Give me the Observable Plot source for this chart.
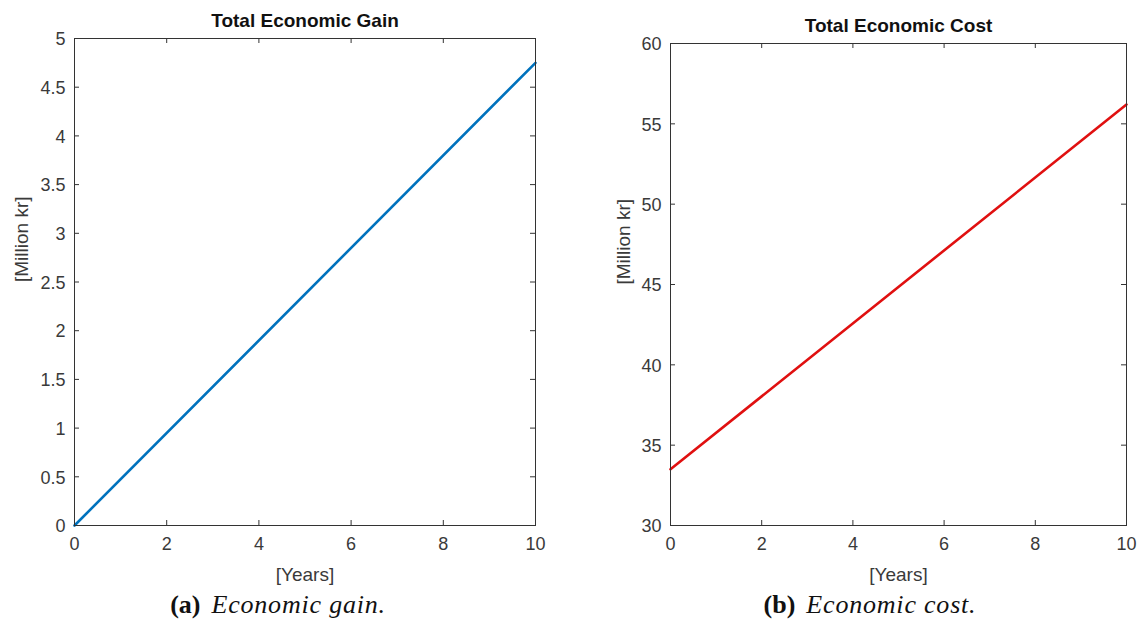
<!DOCTYPE html>
<html>
<head>
<meta charset="utf-8">
<script src="https://cdn.jsdelivr.net/npm/d3@7"></script>
<script src="https://cdn.jsdelivr.net/npm/@observablehq/plot@0.6"></script>
<style>
  body { margin: 0; background: #fff; }
  #wrap { position: relative; width: 1144px; height: 640px; overflow: hidden; background: #fff; }
  .panel { position: absolute; top: 0; }
  .cap {
    position: absolute; top: 590px; transform: translateX(-50%); white-space: nowrap;
    font-family: "Liberation Serif", "DejaVu Serif", serif; font-size: 26px; color: #111;
  }
  .cap b { font-weight: bold; margin-right: 11px; }
  .cap i { font-style: italic; letter-spacing: 0.8px; }
</style>
</head>
<body>
<div id="wrap">
  <div class="panel" id="left" style="left:0px"></div>
  <div class="panel" id="right" style="left:580px"></div>
  <div class="cap" style="left:278px"><b>(a)</b><i>Economic gain.</i></div>
  <div class="cap" style="left:870px"><b>(b)</b><i>Economic cost.</i></div>
</div>
<script>
// Simulation horizon and the two cumulative totals (million kr)
const years = [0, 10];
const gain = [0, 4.75];
const cost = [33.5, 56.2];

// Tick positions for each axis
const xTicks = [0, 2, 4, 6, 8, 10];
const gainTicks = [0, 0.5, 1, 1.5, 2, 2.5, 3, 3.5, 4, 4.5, 5];
const costTicks = [30, 35, 40, 45, 50, 55, 60];

// Text
const titles = ["Total Economic Gain", "Total Economic Cost"];
const xLabel = "[Years]";
const yLabel = "[Million kr]";

const axisInk = "#333333";
const labelInk = "#3a3a3a";

function panel({width, height, ml, mr, mt, mb, yDomain, yTicks, values, color, title, yLabelX}) {
  const ph = height - mt - mb;
  const pw = width - ml - mr;
  const tk = 5; // inward tick length
  const rows = years.map((t, i) => ({t, v: values[i]}));
  return Plot.plot({
    width, height,
    marginLeft: ml, marginRight: mr, marginTop: mt, marginBottom: mb,
    style: {fontFamily: "'Liberation Sans', Arial, sans-serif", fontSize: "18px", color: labelInk, background: "#fff"},
    x: {domain: [0, 10]},
    y: {domain: yDomain},
    marks: [
      Plot.axisX(xTicks, {tickSize: 0, tickPadding: 12, tickFormat: d => String(d), label: null, fill: labelInk}),
      Plot.axisY(yTicks, {tickSize: 0, tickPadding: 9, tickFormat: d => String(d), label: null, fill: labelInk, dy: 1}),
      // MATLAB-style ticks pointing into the box on all four sides
      Plot.tickX(xTicks, {x: d => d, insetTop: ph - tk, stroke: axisInk}),
      Plot.tickX(xTicks, {x: d => d, insetBottom: ph - tk, stroke: axisInk}),
      Plot.tickY(yTicks, {y: d => d, insetRight: pw - tk, stroke: axisInk}),
      Plot.tickY(yTicks, {y: d => d, insetLeft: pw - tk, stroke: axisInk}),
      Plot.line(rows, {x: "t", y: "v", stroke: color, strokeWidth: 2.6}),
      Plot.frame({stroke: axisInk, strokeWidth: 1}),
      Plot.text([title], {text: d => d, frameAnchor: "top", dy: -25, fontWeight: "bold", fontSize: 19, fill: "#111"}),
      Plot.text([xLabel], {text: d => d, frameAnchor: "bottom", dy: 55, fontSize: 19, fill: labelInk}),
      Plot.text([yLabel], {text: d => d, frameAnchor: "left", dx: -(ml - yLabelX), rotate: -90, fontSize: 19, fill: labelInk})
    ]
  });
}

document.getElementById("left").append(panel({
  width: 560, height: 600, ml: 74, mr: 25, mt: 38, mb: 75,
  yDomain: [0, 5], yTicks: gainTicks, values: gain, color: "#0072BD",
  title: titles[0], yLabelX: 21
}));

document.getElementById("right").append(panel({
  width: 564, height: 600, ml: 90, mr: 18, mt: 43, mb: 75,
  yDomain: [30, 60], yTicks: costTicks, values: cost, color: "#E01010",
  title: titles[1], yLabelX: 43
}));
</script>
</body>
</html>
